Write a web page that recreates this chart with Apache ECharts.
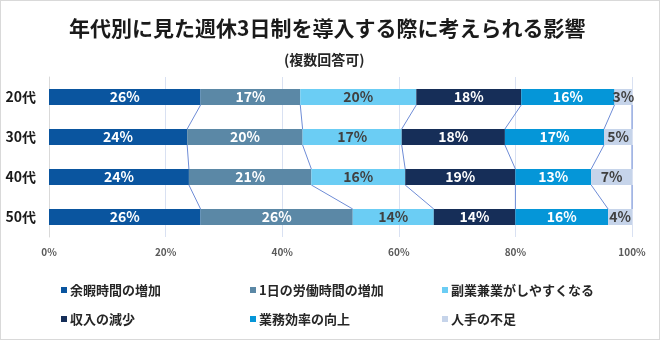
<!DOCTYPE html>
<html><head><meta charset="utf-8">
<script src="https://cdn.jsdelivr.net/npm/echarts@6/dist/echarts.min.js"></script>
<style>html,body{margin:0;padding:0;background:#fff}#c{width:658px;height:338px;border:1px solid #d9d9d9}</style>
</head><body><div id="c"></div>
<script>
const categories = ['20代', '30代', '40代', '50代'];
const seriesNames = ['余暇時間の増加', '1日の労働時間の増加', '副業兼業がしやすくなる', '収入の減少', '業務効率の向上', '人手の不足'];
const s1 = [26.0, 23.7, 24.0, 26.0];
const s2 = [17.1, 19.8, 21.0, 26.1];
const s3 = [19.9, 17.0, 16.1, 13.9];
const s4 = [18.0, 17.7, 18.9, 14.0];
const s5 = [16.0, 17.0, 13.0, 15.9];
const s6 = [3.0, 4.8, 7.0, 4.1];
const xTicks = [0, 20, 40, 60, 80, 100];

const values = [s1, s2, s3, s4, s5, s6];
const colors = ['#0A559F', '#5B88A6', '#6BCDF4', '#162E58', '#0596D8', '#C6D4EA'];
const labelColors = ['#fff', '#fff', '#404040', '#fff', '#fff', '#404040'];
const FONT = '"Noto Sans CJK JP", "Noto Sans", sans-serif';

const cum = categories.map((c, i) => { let s = 0; return values.map(v => (s += v[i])); });
const connData = [];
for (let i = 0; i < categories.length - 1; i++) {
  for (let k = 0; k < values.length; k++) {
    connData.push([Math.min(cum[i][k], 100), i, Math.min(cum[i + 1][k], 100), i + 1]);
  }
}

const chart = echarts.init(document.getElementById('c'));
const series = values.map((v, k) => ({
  name: seriesNames[k], type: 'bar', stack: 'all', data: v, barWidth: '40%',
  itemStyle: { color: colors[k] },
  label: { show: true, position: 'inside', color: labelColors[k], fontSize: 14, fontWeight: 'bold', fontFamily: FONT,
    formatter: p => Math.round(p.value) + '%' },
  z: 3
}));
series.push({
  type: 'custom', data: connData, silent: true, z: 2,
  encode: { x: [0, 2], y: [1, 3] },
  renderItem: (params, api) => {
    const p1 = api.coord([api.value(0), api.value(1)]);
    const p2 = api.coord([api.value(2), api.value(3)]);
    const half = api.size([0, 1])[1] * 0.2;
    return { type: 'line', shape: { x1: p1[0], y1: p1[1] + half, x2: p2[0], y2: p2[1] - half },
      style: { stroke: '#6E8CD6', lineWidth: 1 } };
  }
});

const legendBase = { orient: 'vertical', top: 282, padding: 0, itemWidth: 6, itemHeight: 6, icon: 'rect', itemGap: 15,
  textStyle: { fontSize: 13, lineHeight: 14, fontWeight: 'bold', color: '#262626', fontFamily: FONT, padding: [0, 0, 0, -2] } };

chart.setOption({
  animation: false,
  title: [
    { text: '年代別に見た週休3日制を導入する際に考えられる影響', left: 68, top: 17, padding: 0,
      textStyle: { fontSize: 21, fontWeight: 'bold', color: '#1a1a1a', fontFamily: FONT } },
    { text: '(複数回答可)', left: 283, top: 52, padding: 0,
      textStyle: { fontSize: 14, fontWeight: 'bold', color: '#262626', fontFamily: FONT } }
  ],
  legend: [
    Object.assign({}, legendBase, { left: 60, data: [seriesNames[0], seriesNames[3]] }),
    Object.assign({}, legendBase, { left: 249, data: [seriesNames[1], seriesNames[4]] }),
    Object.assign({}, legendBase, { left: 441, data: [seriesNames[2], seriesNames[5]] })
  ],
  grid: { left: 48, right: 27, top: 76, bottom: 102 },
  xAxis: { type: 'value', min: 0, max: 100, interval: 20,
    axisLine: { show: false }, axisTick: { show: false },
    splitLine: { lineStyle: { color: '#D9E1F2', width: 1 } },
    axisLabel: { formatter: v => xTicks.includes(v) ? v + '%' : '', color: '#595959', fontSize: 10, fontWeight: 'bold', margin: 10, fontFamily: FONT } },
  yAxis: { type: 'category', data: categories, inverse: true,
    axisLine: { show: true, lineStyle: { color: '#D9D9D9' } }, axisTick: { show: false },
    axisLabel: { color: '#1a1a1a', fontSize: 14, fontWeight: 'bold', margin: 13, fontFamily: FONT } },
  series: series
});
</script></body></html>
